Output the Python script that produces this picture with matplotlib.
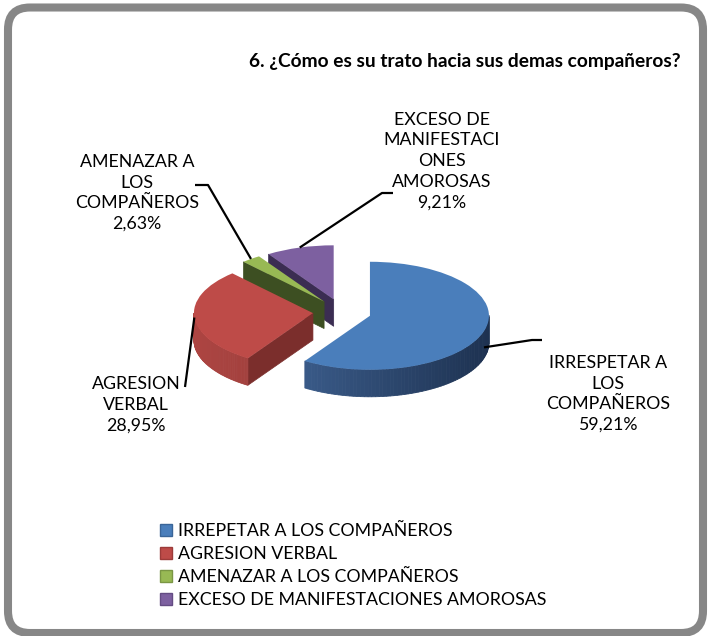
import matplotlib
matplotlib.use("Agg")
import matplotlib.pyplot as plt
from matplotlib.patches import Polygon, Patch, FancyBboxPatch
from matplotlib.transforms import IdentityTransform
from matplotlib.colors import to_rgb
import numpy as np

plt.rcParams['font.family'] = ['Lato', 'DejaVu Sans']

# datos de la grafica
categorias = ["IRREPETAR A LOS COMPAÑEROS", "AGRESION VERBAL",
              "AMENAZAR A LOS COMPAÑEROS", "EXCESO DE MANIFESTACIONES AMOROSAS"]
etiquetas = ["IRRESPETAR A\nLOS\nCOMPAÑEROS", "AGRESION\nVERBAL",
             "AMENAZAR A\nLOS\nCOMPAÑEROS", "EXCESO DE\nMANIFESTACI\nONES\nAMOROSAS"]
porcentajes = [59.21, 28.95, 2.63, 9.21]
titulo = "6. ¿Cómo es su trato hacia sus demas compañeros?"

# colores estilo excel
colores = ['#4a7ebb', '#be4b48', '#98b954', '#7d60a0']
borde_ley = ['#3a6598', '#9c3b39', '#7a9644', '#644c83']
lado_claro = ['#4a72a8', '#ad4542', '#5a7530', '#4f3d6b']
lado_oscuro = ['#1d3150', '#772c2a', '#3a4d20', '#36294a']
cara_radial = ['#2b4670', '#7b2e2c', '#3d4f22', '#3b2d52']

W, H = 710, 636
CX, CY = 342, 312      # centro del pie (pixeles)
RX, RY = 119, 54       # radios de la elipse
DEPTH = 27 / RY
EXPLODE = 0.245


def D(px, py):
    # pixeles de la imagen -> coordenadas del pie
    return ((px - CX) / RX, (CY - py) / RY)


def mezcla(c1, c2, t):
    a, b = np.array(to_rgb(c1)), np.array(to_rgb(c2))
    return tuple(a * (1 - t) + b * t)


fig = plt.figure(figsize=(W / 100, H / 100), dpi=100)
ax = fig.add_axes([0, 0, 1, 1])

fracs = np.array(porcentajes) / sum(porcentajes)
inicio = np.concatenate([[0], np.cumsum(fracs)[:-1]])
t1 = 90 - 360 * inicio
t2 = 90 - 360 * (inicio + fracs)
tm = np.radians((t1 + t2) / 2)
centros = [(EXPLODE * np.cos(m), EXPLODE * np.sin(m)) for m in tm]

# orden de dibujo: de atras hacia adelante
zbase = {3: 2, 2: 4, 1: 6, 0: 8}

# caras laterales (3D)
for i in range(len(porcentajes)):
    ox, oy = centros[i]
    z = zbase[i]
    # caras radiales
    for te, es_inicio in [(t1[i], True), (t2[i], False)]:
        c = np.cos(np.radians(te))
        visible = c < -1e-6 if es_inicio else c > 1e-6
        if not visible:
            continue
        ex, ey = ox + np.cos(np.radians(te)), oy + np.sin(np.radians(te))
        ax.add_patch(Polygon([(ox, oy), (ex, ey), (ex, ey - DEPTH), (ox, oy - DEPTH)],
                             closed=True, fc=cara_radial[i], ec=cara_radial[i],
                             lw=0.5, zorder=z))
    # superficie exterior
    ang = np.radians(np.linspace(t1[i], t2[i], 120))
    for j in range(len(ang) - 1):
        m = (ang[j] + ang[j + 1]) / 2
        if np.sin(m) >= 0:
            continue
        x0, y0 = ox + np.cos(ang[j]), oy + np.sin(ang[j])
        x1, y1 = ox + np.cos(ang[j + 1]), oy + np.sin(ang[j + 1])
        t = np.clip((ox + np.cos(m) + 1.25) / 2.5, 0, 1)
        col = mezcla(lado_claro[i], lado_oscuro[i], t)
        ax.add_patch(Polygon([(x0, y0), (x1, y1), (x1, y1 - DEPTH), (x0, y0 - DEPTH)],
                             closed=True, fc=col, ec=col, lw=0.6, zorder=z))

# caras superiores
wedges, _ = ax.pie(porcentajes, colors=colores, startangle=90, counterclock=False,
                   explode=[EXPLODE] * 4, radius=1, wedgeprops=dict(linewidth=0))
for i, w in enumerate(wedges):
    w.set_zorder(zbase[i] + 1)

ax.set_aspect('auto')
ax.set_xlim(D(0, 0)[0], D(W, 0)[0])
ax.set_ylim(D(0, H)[1], D(0, 0)[1])
ax.axis('off')

# etiquetas de datos
pos_etq = [(608, 394), (136, 405), (137, 193), (442, 161)]
codos = [[(532, 340), (542, 340)], [(185, 387)], [(208, 185), (195, 185)],
         [(382, 193), (393, 193)]]
baja = [0.6, 0.0, 0.0, 0.0]
for i in range(len(porcentajes)):
    txt = etiquetas[i] + "\n" + f"{porcentajes[i]:.2f}".replace('.', ',') + "%"
    ax.text(*D(*pos_etq[i]), txt, ha='center', va='center', fontsize=12.8,
            linespacing=1.36, color='black', zorder=20)
    ox, oy = centros[i]
    ancla = (ox + np.cos(tm[i]), oy + np.sin(tm[i]) - baja[i] * DEPTH)
    pts = [ancla] + [D(*p) for p in codos[i]]
    ax.plot([p[0] for p in pts], [p[1] for p in pts], color='black', lw=1.6,
            zorder=20, solid_capstyle='butt')

ax.text(*D(465, 62), titulo, ha='center', va='center', fontsize=13.8,
        fontweight='bold', color='black')

# leyenda
handles = [Patch(facecolor=colores[i], edgecolor=borde_ley[i], linewidth=1)
           for i in range(len(categorias))]
fig.legend(handles, categorias, loc='upper left',
           bbox_to_anchor=(160 / W, 1 - 523 / H), frameon=False, fontsize=12.8,
           handlelength=0.7, handleheight=0.7, handletextpad=0.3,
           labelspacing=0.4, borderpad=0, borderaxespad=0)

# marco redondeado
fig.add_artist(FancyBboxPatch((8, 3), 695, 625.5,
                              boxstyle="round,pad=0,rounding_size=22",
                              transform=IdentityTransform(), fc='none',
                              ec='#878787', lw=5.8))

fig.savefig("out.png", dpi=100)
